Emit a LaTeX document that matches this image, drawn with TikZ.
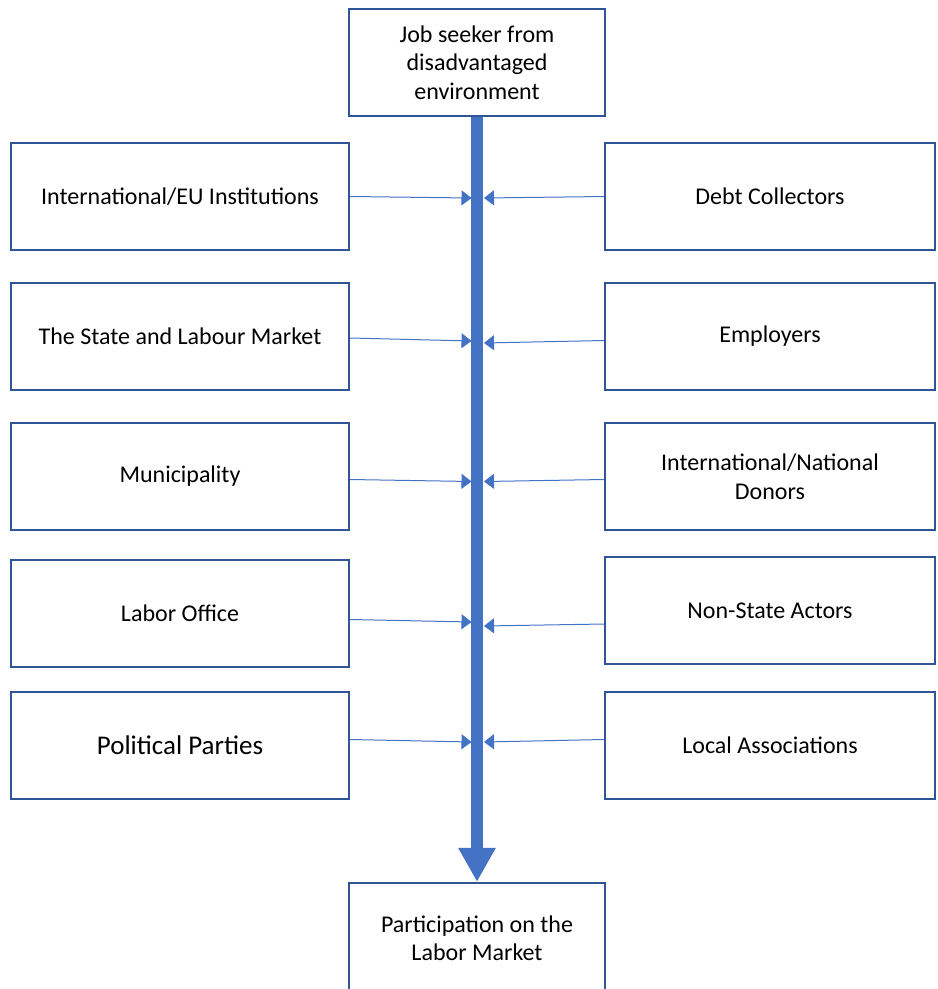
\documentclass[tikz,border=0pt]{standalone}
\usepackage{fontspec}
\setmainfont{Carlito}
\usetikzlibrary{arrows.meta}
\definecolor{boxblue}{HTML}{2F5597}
\definecolor{arrblue}{HTML}{4472C4}
\begin{document}
\begin{tikzpicture}[x=1pt,y=-1pt,
  box/.style={draw=boxblue, line width=2.2pt, fill=white, align=center,
    font=\fontsize{24}{28.5}\selectfont, inner sep=0pt},
  lbox/.style={box, minimum width=338pt, minimum height=107pt},
  rbox/.style={box, minimum width=330pt, minimum height=107pt},
  cbox/.style={box, minimum width=256pt},
  shaft/.style={draw=arrblue, line width=12pt, -{Triangle[length=34pt,width=35pt]}},
  feed/.style={draw=arrblue, line width=1pt, -{Triangle[length=10pt,width=15pt]}}]
\clip (0,0) rectangle (938,989);
\fill[white] (0,0) rectangle (938,989);
% centre boxes
\node[cbox, minimum height=107pt] (top) at (477,62.5) {Job seeker from\\disadvantaged\\environment};
\node[cbox, minimum height=110pt] (bot) at (477,938) {Participation on the\\Labor Market};
% left boxes
\node[lbox] (L1) at (180,196.5) {International/EU Institutions};
\node[lbox] (L2) at (180,336.5) {The State and Labour Market};
\node[lbox] (L3) at (180,476.5) {Municipality};
\node[lbox] (L4) at (180,613.5) {Labor Office};
\node[lbox, font=\fontsize{27}{28.5}\selectfont] (L5) at (180,745.5) {Political Parties};
% right boxes
\node[rbox] (R1) at (770,196.5) {Debt Collectors};
\node[rbox] (R2) at (770,336.5) {Employers};
\node[rbox] (R3) at (770,476.5) {International/National\\Donors};
\node[rbox] (R4) at (770,610.5) {Non-State Actors};
\node[rbox] (R5) at (770,745.5) {Local Associations};
% main arrow
\draw[shaft] (top.south) -- (bot.north);
% points on the shaft
\coordinate (a1) at (471.5,198);   \coordinate (b1) at (484,198);
\coordinate (a2) at (471.5,341);   \coordinate (b2) at (484,343);
\coordinate (a3) at (471.5,481.5); \coordinate (b3) at (484,481.5);
\coordinate (a4) at (471.5,622);   \coordinate (b4) at (484,626);
\coordinate (a5) at (471.5,742);   \coordinate (b5) at (484,742);
% feeding arrows
\draw[feed] (L1.east) -- (a1);
\draw[feed] (R1.west) -- (b1);
\draw[feed] ([yshift=-1.5pt]L2.east) -- (a2);
\draw[feed] ([yshift=-4pt]R2.west) -- (b2);
\draw[feed] ([yshift=-3pt]L3.east) -- (a3);
\draw[feed] ([yshift=-3pt]R3.west) -- (b3);
\draw[feed] ([yshift=-6pt]L4.east) -- (a4);
\draw[feed] ([yshift=-13.5pt]R4.west) -- (b4);
\draw[feed] ([yshift=6pt]L5.east) -- (a5);
\draw[feed] ([yshift=6pt]R5.west) -- (b5);
\end{tikzpicture}
\end{document}
